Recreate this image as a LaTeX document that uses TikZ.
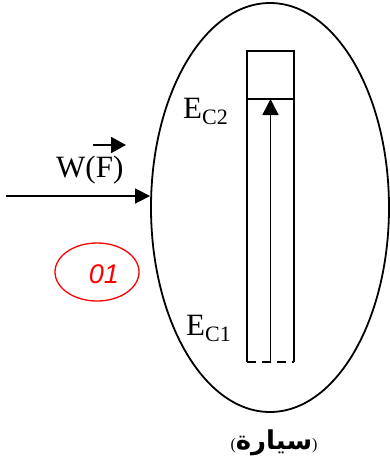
\documentclass[tikz,border=0pt]{standalone}
\usepackage{fontspec}
\setmainfont{Liberation Serif}
\newfontfamily\arabicfont[Script=Arabic]{DejaVu Sans}
\newfontfamily\redsans{Liberation Sans}
\TeXXeTstate=1
\usetikzlibrary{arrows.meta,shapes.geometric}
\begin{document}
\begin{tikzpicture}[x=1pt,y=-1pt,
  line/.style={line width=1.6pt},
  lbl/.style={inner sep=0pt, font=\fontsize{31}{33}\selectfont},
  tip/.style={-{Triangle[length=15pt,width=15pt]}}]
\useasboundingbox (0,0) rectangle (390,459);
% outer ellipse
\node[draw, line width=1.8pt, ellipse, minimum width=238pt, minimum height=409pt, inner sep=0pt] (car) at (270,207.5) {};
% bar
\coordinate (tl) at (247,51);
\coordinate (tr) at (294,51);
\coordinate (ml) at (247,99);
\coordinate (mr) at (294,99);
\coordinate (bl) at (247,362);
\coordinate (br) at (294,362);
\draw[line] (bl) -- (tl) -- (tr) -- (br);
\draw[line] (ml) -- (mr);
\draw[line, dash pattern=on 9pt off 6pt] (bl) -- (br);
\coordinate (abot) at (270.5,362);
\coordinate (atop) at (270.5,99);
\draw[line, -{Triangle[length=16pt,width=16pt]}] (abot) -- (atop);
% labels
\node[lbl, anchor=base west] (ec2) at (183,118) {E\textsubscript{\fontsize{22}{24}\selectfont C2}};
\node[lbl, anchor=base west] (ec1) at (186,335) {E\textsubscript{\fontsize{22}{24}\selectfont C1}};
\node[lbl, anchor=base west] (w) at (56,177) {W(F)};
\coordinate (vs) at (93,145);
\coordinate (ve) at (126,145);
\draw[line width=1.8pt, -{Triangle[length=15pt,width=16pt]}] (vs) -- (ve);
% force arrow
\coordinate (fs) at (6,196);
\draw[line, tip] (fs) -- (fs -| car.west);
% red label
\node[draw=red, line width=1.3pt, ellipse, minimum width=84pt, minimum height=58pt, inner sep=0pt] (num) at (97,272) {};
\node[text=red, font=\redsans\itshape\fontsize{27}{28}\selectfont, inner sep=0pt] (numt) at (104,274) {01};
% arabic label
\node[inner sep=0pt, anchor=base] (name) at (274,449) {{\fontsize{16}{18}\selectfont(}{\arabicfont\bfseries\fontsize{26}{28}\selectfont\beginR سيارة\endR}{\fontsize{16}{18}\selectfont)}};
\end{tikzpicture}
\end{document}
